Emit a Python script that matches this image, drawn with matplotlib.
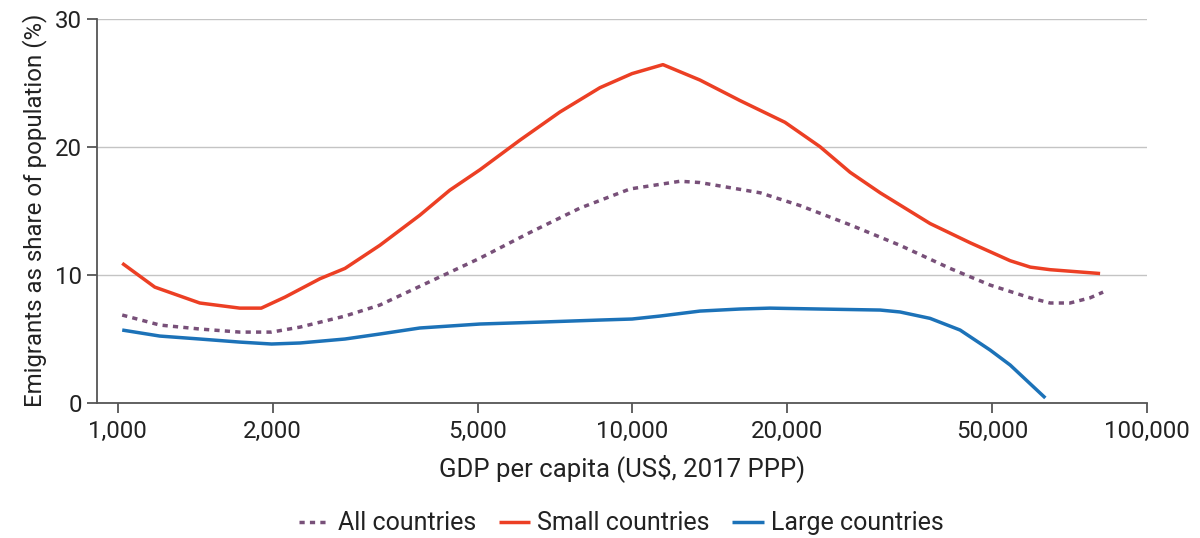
import matplotlib
matplotlib.use("Agg")
import matplotlib.pyplot as plt
from matplotlib.ticker import FixedLocator, NullLocator

plt.rcParams['font.family'] = ['Roboto', 'DejaVu Sans']

# Small countries
small_x = [1020, 1180, 1443, 1726, 1900, 2113, 2472, 2763, 3229, 3862, 4415, 5055, 6040,
           7225, 8643, 9980, 11460, 13520, 16170, 19780, 23130, 26470, 30280, 37860,
           45290, 54170, 59280, 64770, 81000]
small_y = [10.9, 9.04, 7.8, 7.4, 7.4, 8.26, 9.7, 10.5, 12.3, 14.65, 16.6, 18.2, 20.5,
           22.7, 24.6, 25.7, 26.4, 25.2, 23.6, 21.9, 20.0, 18.0, 16.4, 14.0,
           12.5, 11.1, 10.6, 10.4, 10.1]

# All countries
all_x = [1020, 1207, 1443, 1726, 1990, 2260, 2763, 3229, 4020, 5055, 6320, 7900, 9890,
         12370, 13520, 17700, 21170, 26470, 33100, 41400, 49520, 59280, 64770, 70800,
         77400, 82100]
all_y = [6.86, 6.08, 5.77, 5.53, 5.53, 5.92, 6.78, 7.64, 9.43, 11.3, 13.3, 15.2, 16.7,
         17.3, 17.2, 16.4, 15.4, 13.9, 12.3, 10.5, 9.2, 8.2, 7.8, 7.8,
         8.2, 8.65]

# Large countries
large_x = [1020, 1207, 1443, 1726, 1990, 2260, 2763, 3229, 3862, 5055, 6620, 8643, 9980,
           11300, 13520, 16170, 18490, 23130, 30280, 33100, 37860, 43300, 49520, 54170,
           63400]
large_y = [5.69, 5.22, 4.99, 4.75, 4.6, 4.68, 4.99, 5.38, 5.85, 6.16, 6.31, 6.47, 6.55,
           6.78, 7.17, 7.33, 7.4, 7.33, 7.25, 7.1, 6.6, 5.69, 4.13, 2.96,
           0.39]

x_ticks = [1000, 2000, 5000, 10000, 20000, 50000, 100000]
x_ticklabels = ["1,000", "2,000", "5,000", "10,000", "20,000", "50,000", "100,000"]
y_ticks = [0, 10, 20, 30]

c_all = '#785079'
c_small = '#EC3F24'
c_large = '#1C72B8'

fig = plt.figure(figsize=(12, 5.38), dpi=100)
ax = fig.add_axes([0.081, 0.251, 0.875, 0.7146])

ax.plot(all_x, all_y, color=c_all, lw=2.5, linestyle=(0, (1.5, 1.5)),
        dash_capstyle='butt', label='All countries', zorder=3)
ax.plot(small_x, small_y, color=c_small, lw=2.5, label='Small countries',
        solid_capstyle='butt', zorder=3)
ax.plot(large_x, large_y, color=c_large, lw=2.5, label='Large countries',
        solid_capstyle='butt', zorder=3)

ax.set_xscale('log')
ax.set_xlim(912, 100000)
ax.set_ylim(0, 30)
ax.xaxis.set_major_locator(FixedLocator(x_ticks))
ax.xaxis.set_minor_locator(NullLocator())
ax.set_xticklabels(x_ticklabels)
ax.set_yticks(y_ticks)

ax.grid(axis='y', color='#c4c4c4', lw=1.0)
ax.set_axisbelow(True)
for s in ['top', 'right']:
    ax.spines[s].set_visible(False)
for s in ['left', 'bottom']:
    ax.spines[s].set_color('#555555')
    ax.spines[s].set_linewidth(1.3)
ax.tick_params(axis='both', colors='#555555', length=7, width=1.3,
               labelsize=17.3, labelcolor='#222222')
ax.tick_params(axis='x', pad=5)
ax.tick_params(axis='y', pad=4)

ax.set_xlabel('GDP per capita (US$, 2017 PPP)', fontsize=18.5, color='#222222', labelpad=8)
ax.set_ylabel('Emigrants as share of population (%)', fontsize=17.3, color='#222222', labelpad=6)

fig.legend(loc='center', bbox_to_anchor=(0.518, 0.027), ncol=3, frameon=False,
           fontsize=18, handlelength=1.25, columnspacing=0.9, handletextpad=0.3,
           labelcolor='#222222')

fig.savefig('out.png', dpi=100)
